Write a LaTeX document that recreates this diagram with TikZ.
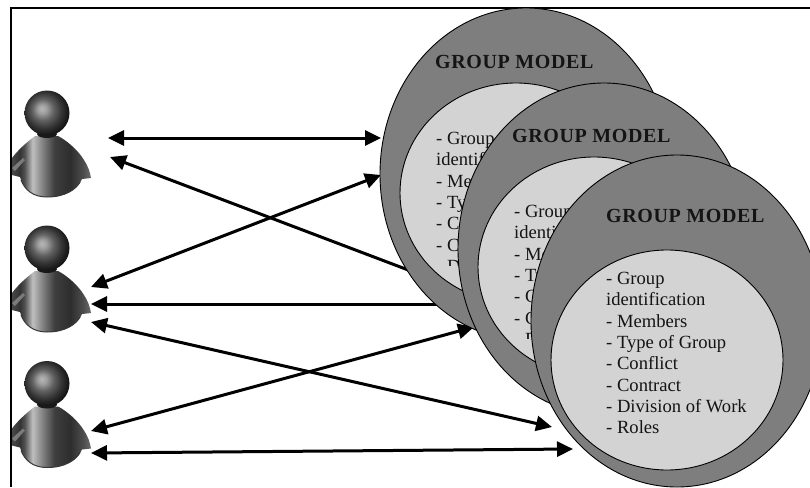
\documentclass[tikz,border=0pt]{standalone}
\usepackage{fontspec}
\setmainfont{Liberation Serif}
\newfontfamily\titlefont[LetterSpace=3]{Liberation Serif}
\usetikzlibrary{arrows.meta}
\definecolor{outergray}{HTML}{7E7E7E}
\definecolor{innergray}{HTML}{D3D3D3}
\definecolor{inkgray}{HTML}{141414}
\pgfdeclareradialshading{headshade}{\pgfpoint{-6bp}{5bp}}{
  color(0bp)=(black!28); color(5bp)=(black!38); color(12bp)=(black!62);
  color(20bp)=(black!80); color(27bp)=(black!92); color(33bp)=(black!96); color(50bp)=(black!96)}
\pgfdeclarehorizontalshading{bodyshade}{100bp}{
  color(0bp)=(black!72); color(25bp)=(black!72); color(30bp)=(black!80);
  color(33bp)=(black!68); color(38bp)=(black!25); color(44bp)=(black!48);
  color(52bp)=(black!76); color(62bp)=(black!82); color(70bp)=(black!70);
  color(75bp)=(black!58); color(100bp)=(black!58)}
\tikzset{
  link/.style={line width=3pt,black,{Triangle[length=16pt,width=15pt]}-{Triangle[length=16pt,width=15pt]}},
  outerdisc/.style={draw=black,line width=0.9pt,fill=outergray},
  innerdisc/.style={draw=black,line width=0.9pt,fill=innergray},
  titletext/.style={anchor=north west,inner sep=0pt,text=inkgray,font=\fontsize{20}{24}\titlefont\bfseries},
  listtext/.style={anchor=north west,inner sep=0pt,text=inkgray,align=left,font=\fontsize{18.6}{21.3}\selectfont}
}
\newcommand{\personfig}[2]{%
  \begin{scope}[shift={(0,#1)}]
    \shade[shading=bodyshade]
      (35,136) -- (58,136)
      .. controls (66,140) and (78,150) .. (84,160)
      .. controls (88,166) and (90,172) .. (91,178) -- (82,179)
      .. controls (78,189) and (66,197) .. (47,197)
      .. controls (33,197) and (23,189) .. (20,177)
      -- (12,175) -- (12,158)
      .. controls (18,150) and (27,142) .. (35,136) -- cycle;
    \draw[black!78,line width=1pt]
      (80,182) .. controls (76,189) and (66,197) .. (47,197)
      .. controls (33,197) and (25,190) .. (21,180);
    \fill[black!52] (12,168) -- (23,158) -- (25,160) -- (15,171) -- cycle;
    \fill[black!90] (47,134) ellipse[x radius=10,y radius=4];
    \shade[shading=headshade] (47,113) circle[radius=22.5];
    \coordinate (#2) at (47,113);
  \end{scope}}
\newcommand{\modeltext}{- Group\\identification\\- Members\\- Type of Group\\- Conflict\\- Contract\\- Division of Work\\- Roles}
\begin{document}
\begin{tikzpicture}[x=1pt,y=-1pt]
\useasboundingbox (0,0) rectangle (810,487);
\fill[white] (0,0) rectangle (810,487);
% people
\personfig{0}{userA}
\personfig{135}{userB}
\personfig{270.5}{userC}
% frame
\coordinate (frameBL) at (11,487);
\coordinate (frameTL) at (11,8);
\coordinate (frameTR) at (810,8);
\draw[line width=1.9pt,black] (frameBL) -- (frameTL) -- (frameTR);
% connector ends
\coordinate (a1) at (108,138);  \coordinate (m1) at (381,138);
\coordinate (a2) at (110,157);  \coordinate (m2) at (432,279);
\coordinate (b1) at (91,287);   \coordinate (m3) at (381,175);
\coordinate (b2) at (91,304);   \coordinate (m4) at (466,304);
\coordinate (b3) at (91,322);   \coordinate (m5) at (552,427);
\coordinate (c1) at (91,431);   \coordinate (m6) at (474,327);
\coordinate (c2) at (91,453);   \coordinate (m7) at (573,449);
\draw[link] (a1) -- (m1);
\draw[link] (a2) -- (m2);
\draw[link] (b1) -- (m3);
\draw[link] (b2) -- (m4);
\draw[link] (b3) -- (m5);
\draw[link] (c1) -- (m6);
\draw[link] (c2) -- (m7);
% group model 1
\draw[outerdisc] (526,174) ellipse[x radius=146,y radius=166];
\draw[innerdisc] (516,193) ellipse[x radius=116,y radius=110];
\node[titletext] (titleA) at (435,55) {GROUP MODEL};
\begin{scope}
  \clip (430,120) rectangle (560,265);
  \node[listtext] (listA) at (436,132) {\modeltext};
\end{scope}
% group model 2
\draw[outerdisc] (604,249) ellipse[x radius=146,y radius=166];
\draw[innerdisc] (594,267) ellipse[x radius=116,y radius=110];
\node[titletext] (titleB) at (512,129) {GROUP MODEL};
\begin{scope}
  \clip (505,195) rectangle (640,338);
  \node[listtext] (listB) at (514,205) {\modeltext};
\end{scope}
% group model 3
\draw[outerdisc] (677,321) ellipse[x radius=146,y radius=166];
\draw[innerdisc] (667,360) ellipse[x radius=116,y radius=110];
\node[titletext] (titleC) at (606,209) {GROUP MODEL};
\node[listtext] (listC) at (606,272) {\modeltext};
\end{tikzpicture}
\end{document}
